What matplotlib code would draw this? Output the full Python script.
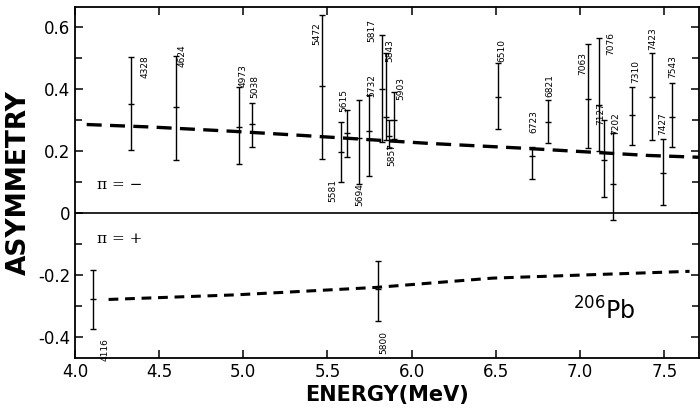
import matplotlib
matplotlib.use('Agg')
import matplotlib.pyplot as plt
import numpy as np

plt.rcParams['font.family'] = ['Liberation Sans Narrow', 'DejaVu Sans']

# pi = - levels (label, energy MeV, asymmetry centre, low, high)
neg_labels = ['4328', '4624', '4973', '5038', '5472', '5581', '5615', '5694',
              '5732', '5817', '5843', '5857', '5903', '6510', '6723', '6821',
              '7063', '7076', '7127', '7202', '7310', '7423', '7427', '7543']
neg_energy = [4.333, 4.60, 4.975, 5.05, 5.47, 5.58, 5.617, 5.69,
              5.747, 5.825, 5.848, 5.865, 5.895, 6.51, 6.717, 6.81,
              7.05, 7.11, 7.14, 7.197, 7.31, 7.43, 7.49, 7.547]
neg_center = [0.352, 0.342, 0.277, 0.287, 0.41, 0.196, 0.257, 0.243,
              0.266, 0.40, 0.31, 0.25, 0.30, 0.376, 0.184, 0.295,
              0.37, 0.35, 0.17, 0.095, 0.316, 0.375, 0.13, 0.31]
neg_low = [0.203, 0.17, 0.157, 0.212, 0.173, 0.099, 0.18, 0.095,
           0.119, 0.229, 0.235, 0.21, 0.24, 0.27, 0.111, 0.225,
           0.209, 0.20, 0.05, -0.024, 0.219, 0.235, 0.025, 0.213]
neg_high = [0.503, 0.507, 0.406, 0.355, 0.64, 0.293, 0.333, 0.365,
            0.381, 0.577, 0.517, 0.30, 0.39, 0.484, 0.213, 0.365,
            0.546, 0.565, 0.30, 0.258, 0.408, 0.516, 0.238, 0.42]

# pi = + levels
pos_labels = ['4116', '5800']
pos_energy = [4.107, 5.80]
pos_center = [-0.28, -0.247]
pos_low = [-0.375, -0.349]
pos_high = [-0.186, -0.155]

# dashed calculated curves
curve_neg_e = [4.07, 4.45, 4.94, 5.34, 6.1, 6.64, 7.4, 7.71]
curve_neg_a = [0.286, 0.278, 0.264, 0.251, 0.225, 0.21, 0.186, 0.18]
curve_pos_e = [4.2, 4.96, 5.79, 6.48, 7.65]
curve_pos_a = [-0.28, -0.265, -0.241, -0.211, -0.189]

# where each level label sits: anchor (t/b), dx px, dy px
neg_lab_pos = [('t', 14, -21), ('t', 6, -11), ('t', 4, 0), ('t', 3, 5),
               ('t', -6, -30), ('b', -8, -3), ('t', -3, -2), ('b', 0, 0),
               ('t', 3, -2), ('t', -10, -7), ('t', 4, -9), ('b', 3, -5),
               ('t', 7, -8), ('t', 4, 1), ('t', 1, 14), ('t', 2, 3),
               ('t', -6, -31), ('t', 12, -17), ('t', -3, -5), ('t', 2, -2),
               ('t', 3, 4), ('t', 0, 3), ('t', 0, 4), ('t', 1, 5)]
pos_lab_pos = [('b', 12, 9), ('b', 6, 10)]

fig = plt.figure(figsize=(7.0, 4.16), dpi=100)
ax = fig.add_axes([0.107, 0.139, 0.892, 0.844])

ax.axhline(0, color='black', linewidth=1.2)

ax.plot(curve_neg_e, curve_neg_a, color='black', linewidth=2.4,
        linestyle=(0, (4.5, 2.5)))
ax.plot(curve_pos_e, curve_pos_a, color='black', linewidth=2.2,
        linestyle=(0, (3.2, 2.2)))


def draw_levels(en, c, lo, hi, labels, lab_pos):
    en = np.array(en)
    c = np.array(c)
    lo = np.array(lo)
    hi = np.array(hi)
    ax.errorbar(en, c, yerr=[c - lo, hi - c], fmt='_', color='black',
                ms=4, elinewidth=1.0, capsize=2.2, capthick=1.0)
    for e, l, h, lab, (anc, dx, dy) in zip(en, lo, hi, labels, lab_pos):
        if anc == 't':
            ax.annotate(lab, (e, h), xytext=(dx * 0.72, dy * 0.72),
                        textcoords='offset points', rotation=90,
                        ha='center', va='bottom', fontsize=6.5)
        else:
            ax.annotate(lab, (e, l), xytext=(dx * 0.72, -dy * 0.72),
                        textcoords='offset points', rotation=90,
                        ha='center', va='top', fontsize=6.5)


draw_levels(neg_energy, neg_center, neg_low, neg_high, neg_labels, neg_lab_pos)
draw_levels(pos_energy, pos_center, pos_low, pos_high, pos_labels, pos_lab_pos)

ax.text(4.13, 0.09, 'π = −', fontsize=11, va='center', ha='left',
        family=['DejaVu Serif'])
ax.text(4.13, -0.085, 'π = +', fontsize=11, va='center', ha='left',
        family=['DejaVu Serif'])
ax.text(6.96, -0.345, r'$^{206}$Pb', fontsize=17, ha='left', va='baseline')

ax.set_xlim(4.0, 7.708)
ax.set_ylim(-0.47, 0.666)
ax.set_xticks(np.arange(4.0, 7.6, 0.5))
ax.set_xticklabels(['4.0', '4.5', '5.0', '5.5', '6.0', '6.5', '7.0', '7.5'])
ax.set_yticks([-0.4, -0.2, 0, 0.2, 0.4, 0.6])
ax.set_yticklabels(['-0.4', '-0.2', '0', '0.2', '0.4', '0.6'])
ax.set_yticks(np.arange(-0.3, 0.6, 0.2), minor=True)
ax.tick_params(which='both', direction='in', top=True, right=True,
               labelsize=12, width=1.1)
ax.tick_params(which='major', length=6)
ax.tick_params(which='minor', length=5)
for s in ax.spines.values():
    s.set_linewidth(1.3)

ax.set_xlabel('ENERGY(MeV)', fontsize=15, fontweight='bold', labelpad=3)
ax.set_ylabel('ASYMMETRY', fontsize=19, fontweight='bold', labelpad=4)

fig.savefig('out.png', dpi=100)
